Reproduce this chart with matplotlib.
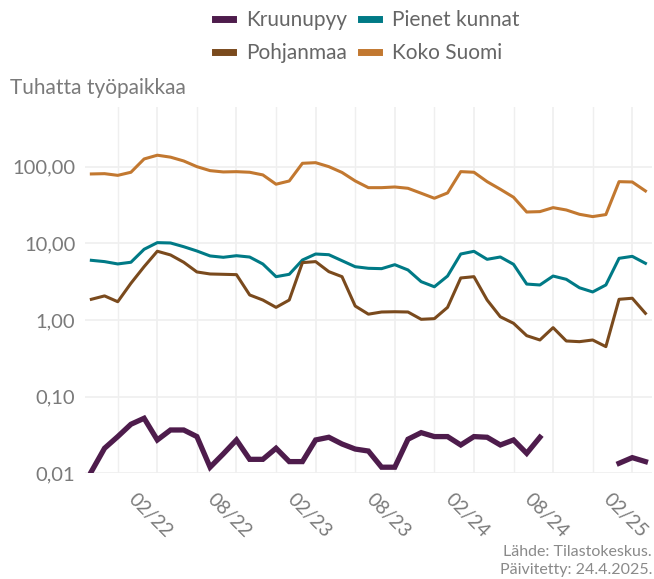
import numpy as np
import pandas as pd
import matplotlib
matplotlib.use("Agg")
import matplotlib.pyplot as plt
from matplotlib.transforms import ScaledTranslation

plt.rcParams["font.family"] = ["Lato", "DejaVu Sans"]

# monthly values, thousands of jobs, 09/2021 .. 03/2025
months = pd.period_range("2021-09", "2025-03", freq="M")

kruunupyy = [0.0105, 0.0212, 0.0301, 0.0436, 0.0522, 0.0272, 0.0367, 0.0367, 0.0301, 0.0120,
             0.0179, 0.0272, 0.0152, 0.0152, 0.0212, 0.0142, 0.0142, 0.0272, 0.0295, 0.0241,
             0.0207, 0.0195, 0.0120, 0.0120, 0.0278, 0.0339, 0.0301, 0.0301, 0.0234, 0.0301,
             0.0295, 0.0234, 0.0272, 0.0182, 0.0295, np.nan, np.nan, np.nan, np.nan, np.nan,
             0.0135, 0.0160, 0.0142]
pienet_kunnat = [6.0, 5.77, 5.38, 5.66, 8.36, 10.2, 10.1, 9.03, 7.94, 6.84,
                 6.57, 6.89, 6.62, 5.37, 3.67, 3.94, 6.05, 7.25, 7.1, 5.93,
                 4.95, 4.72, 4.67, 5.26, 4.49, 3.16, 2.71, 3.74, 7.25, 7.86,
                 6.18, 6.63, 5.32, 2.94, 2.86, 3.74, 3.39, 2.63, 2.32, 2.86,
                 6.37, 6.76, 5.48]
pohjanmaa = [1.86, 2.06, 1.73, 3.01, 4.96, 7.88, 7.05, 5.66, 4.23, 3.98,
             3.94, 3.90, 2.12, 1.82, 1.46, 1.82, 5.60, 5.77, 4.27, 3.67,
             1.52, 1.19, 1.27, 1.28, 1.27, 1.02, 1.04, 1.46, 3.53, 3.67,
             1.82, 1.10, 0.905, 0.624, 0.548, 0.794, 0.532, 0.521, 0.548, 0.449,
             1.86, 1.92, 1.22]
koko_suomi = [80.3, 81.0, 77.0, 84.5, 126, 141, 133, 118.6, 100, 88.7,
              85.3, 86.0, 84.5, 78.0, 59.0, 65.0, 110.6, 112.7, 100, 84.0,
              65.1, 53.2, 53.2, 54.3, 52.2, 45.0, 38.7, 45.4, 86.1, 84.5,
              63.7, 50.7, 39.9, 25.6, 25.9, 29.2, 27.2, 23.9, 22.3, 23.7,
              63.7, 63.1, 48.2]

tick_labels = ["02/22", "08/22", "02/23", "08/23", "02/24", "08/24", "02/25"]
y_ticks = [0.01, 0.1, 1, 10, 100]
y_labels = ["0,01", "0,10", "1,00", "10,00", "100,00"]

C_KRUU, C_PIEN, C_POHJ, C_KOKO = "#4e1c4c", "#007a86", "#7a4a1d", "#c27830"
GRID = "#efefef"
TXT = "#7a7a7a"

x = np.arange(len(months))
labels = [m.strftime("%m/%y") for m in months]
major = [labels.index(t) for t in tick_labels]
minor = [p - 3 for p in major] + [major[-1] + 3]

fig = plt.figure(figsize=(6.54, 5.79), dpi=100)
ax = fig.add_axes([0.130, 0.1826, 0.867, 0.6326])

l1, = ax.plot(x, kruunupyy, color=C_KRUU, lw=3.8, solid_joinstyle="miter", label="Kruunupyy")
l2, = ax.plot(x, pienet_kunnat, color=C_PIEN, lw=2.2, label="Pienet kunnat")
l3, = ax.plot(x, pohjanmaa, color=C_POHJ, lw=2.2, label="Pohjanmaa")
l4, = ax.plot(x, koko_suomi, color=C_KOKO, lw=2.2, label="Koko Suomi")

ax.set_yscale("log")
ax.set_ylim(0.01, 600)
ax.set_xlim(-0.48, 42.5)
ax.set_yticks(y_ticks)
ax.set_yticklabels(y_labels)
ax.yaxis.set_minor_locator(matplotlib.ticker.NullLocator())
ax.set_xticks(major)
ax.set_xticklabels(tick_labels, rotation=-45, ha="center", va="top", rotation_mode="default")
ax.set_xticks([m for m in minor if 0 <= m <= 42], minor=True)

for s in ax.spines.values():
    s.set_visible(False)
ax.tick_params(axis="y", length=0, colors=TXT, labelsize=14.5, pad=7)
ax.tick_params(axis="x", which="both", length=0, colors=TXT, labelsize=14, pad=12)
shift = ScaledTranslation(-7 / 100, 0, fig.dpi_scale_trans)
for t in ax.get_xticklabels():
    t.set_transform(t.get_transform() + shift)
ax.grid(True, which="major", color=GRID, lw=1.2)
ax.grid(True, which="minor", axis="x", color=GRID, lw=1.0)
ax.set_axisbelow(True)

fig.text(10 / 654, 1 - 88 / 579, "Tuhatta työpaikkaa", color=TXT, fontsize=15, va="center", ha="left")

leg = fig.legend([l1, l3, l2, l4], ["Kruunupyy", "Pohjanmaa", "Pienet kunnat", "Koko Suomi"],
                 ncol=2, loc="upper left", bbox_to_anchor=(215 / 654, 1 - 10 / 579),
                 frameon=False, fontsize=15, handlelength=0.85,
                 handletextpad=0.65, columnspacing=0.65, labelspacing=0.62,
                 borderpad=0, borderaxespad=0)
for h in leg.legend_handles:
    h.set_linewidth(5)
for t in leg.get_texts():
    t.set_color("#666666")

fig.text(652 / 654, 1 - 552 / 579, "Lähde: Tilastokeskus.", color="#8a8a8a", fontsize=11.5, ha="right", va="center")
fig.text(652 / 654, 1 - 570 / 579, "Päivitetty: 24.4.2025.", color="#8a8a8a", fontsize=11.5, ha="right", va="center")

fig.savefig("out.png", dpi=100)
